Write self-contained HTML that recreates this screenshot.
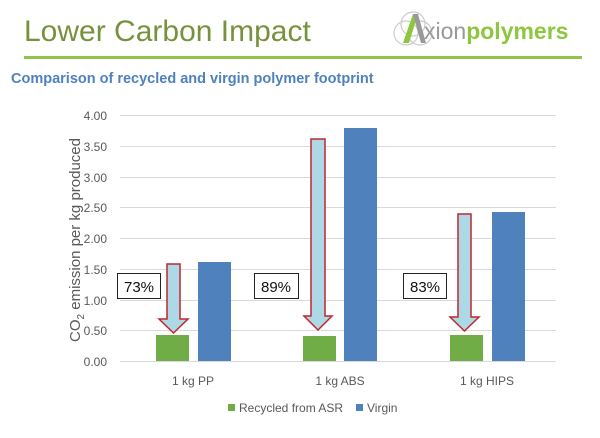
<!DOCTYPE html>
<html><head><meta charset="utf-8"><style>
body{margin:0;background:#fff;width:600px;height:438px;overflow:hidden}
svg{display:block}
</style></head><body>
<svg width="600" height="438" viewBox="0 0 600 438" xmlns="http://www.w3.org/2000/svg" font-family="Liberation Sans, sans-serif">
<rect width="600" height="438" fill="#fff"/>
<text x="24" y="41" font-size="30" fill="#76923c">Lower Carbon Impact</text>
<g>
<circle cx="413" cy="24" r="12" fill="none" stroke="#ccc" stroke-width="1.2"/>
<circle cx="406" cy="33" r="12" fill="none" stroke="#ccc" stroke-width="1.2"/>
<circle cx="420" cy="33" r="12" fill="none" stroke="#ccc" stroke-width="1.2"/>
<polygon points="403,43 413,14 418,14 409,43" fill="#8dc63f"/>
<polygon points="413,14 418,14 426,43 421,43" fill="#999"/>
<text x="424" y="39" font-size="23" fill="#999">xion<tspan fill="#8dc63f" font-weight="bold">polymers</tspan></text>
</g>
<rect x="24" y="56" width="558" height="3" fill="#92c44c"/>
<text x="11" y="83" font-size="14.5" font-weight="bold" fill="#4f81bd">Comparison of recycled and virgin polymer footprint</text>
<g stroke="#d9d9d9" stroke-width="1">
<line x1="120" x2="556" y1="115.5" y2="115.5"/>
<line x1="120" x2="556" y1="146.5" y2="146.5"/>
<line x1="120" x2="556" y1="177.5" y2="177.5"/>
<line x1="120" x2="556" y1="207.5" y2="207.5"/>
<line x1="120" x2="556" y1="238.5" y2="238.5"/>
<line x1="120" x2="556" y1="269.5" y2="269.5"/>
<line x1="120" x2="556" y1="300.5" y2="300.5"/>
<line x1="120" x2="556" y1="330.5" y2="330.5"/>
<line x1="120" x2="556" y1="361.5" y2="361.5"/>
</g>
<g font-size="12" fill="#595959" text-anchor="end">
<text x="107" y="120">4.00</text><text x="107" y="151">3.50</text><text x="107" y="182">3.00</text>
<text x="107" y="212">2.50</text><text x="107" y="243">2.00</text><text x="107" y="274">1.50</text>
<text x="107" y="305">1.00</text><text x="107" y="335">0.50</text><text x="107" y="366">0.00</text>
</g>
<text transform="translate(80,240) rotate(-90)" font-size="15" fill="#595959" text-anchor="middle">CO<tspan font-size="10" dy="4">2</tspan><tspan dy="-4"> emission per kg produced</tspan></text>
<rect x="156" y="335" width="33" height="26" fill="#70ad47"/>
<rect x="198" y="262" width="33" height="99" fill="#4f81bd"/>
<rect x="303" y="336" width="33" height="25" fill="#70ad47"/>
<rect x="344" y="128" width="33" height="233" fill="#4f81bd"/>
<rect x="450" y="335" width="33" height="26" fill="#70ad47"/>
<rect x="492" y="212" width="33" height="149" fill="#4f81bd"/>
<g fill="#add8e6" stroke="#c0272d" stroke-width="1.5">
<polygon points="167,264 180,264 180,319 188,319 173.5,333 159,319 167,319"/>
<polygon points="311,139 325,139 325,316 332,316 318,330 304,316 311,316"/>
<polygon points="458,214 471,214 471,317 479,317 464.5,331 450,317 458,317"/>
</g>
<g fill="#fff" stroke="#222" stroke-width="1">
<rect x="117.5" y="273.5" width="43" height="25"/>
<rect x="254.5" y="273.5" width="44" height="25"/>
<rect x="403.5" y="273.5" width="43" height="25"/>
</g>
<g font-size="15" fill="#111" text-anchor="middle">
<text x="139" y="292">73%</text><text x="276" y="292">89%</text><text x="425" y="292">83%</text>
</g>
<g font-size="12" fill="#595959" text-anchor="middle">
<text x="193" y="385">1 kg PP</text><text x="340" y="385">1 kg ABS</text><text x="487" y="385">1  kg HIPS</text>
</g>
<rect x="228" y="404" width="7" height="7" fill="#70ad47"/>
<text x="239" y="412" font-size="12" fill="#595959">Recycled from ASR</text>
<rect x="356" y="404" width="7" height="7" fill="#4f81bd"/>
<text x="367" y="412" font-size="12" fill="#595959">Virgin</text>
</svg>
</body></html>
